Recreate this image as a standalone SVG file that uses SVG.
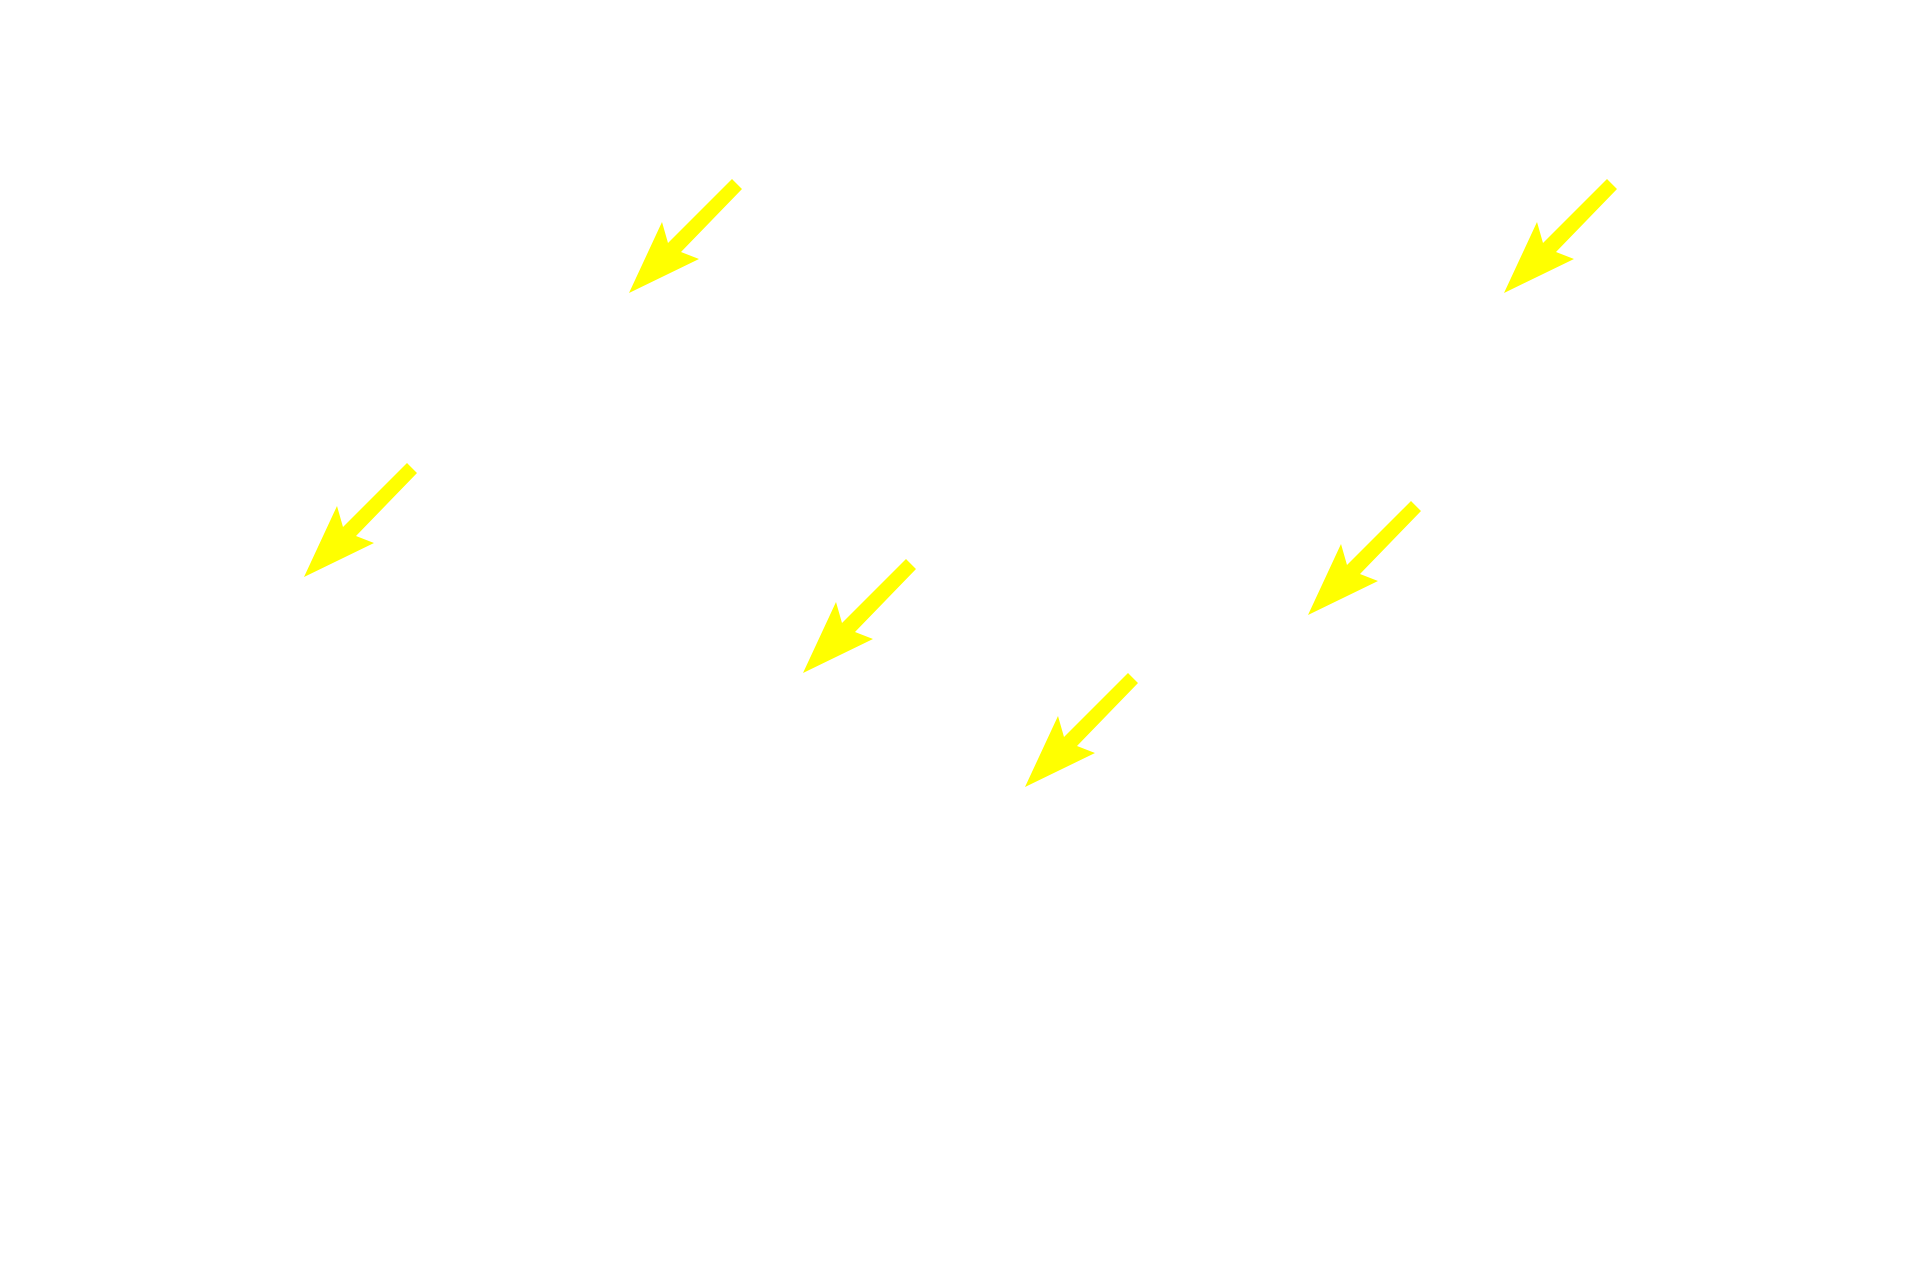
<svg xmlns="http://www.w3.org/2000/svg" width="1920" height="1280" viewBox="0 0 1920 1280">
<defs><polygon id="arr" points="0,0 33,-71 39,-50 103,-114 113,-104 52,-41 70,-34" fill="#ffff00"/></defs>
<rect width="1920" height="1280" fill="#fff"/>
<g id="arrows">
<use href="#arr" x="629" y="293"/>
<use href="#arr" x="1504" y="293"/>
<use href="#arr" x="304" y="577"/>
<use href="#arr" x="803" y="673"/>
<use href="#arr" x="1308" y="615"/>
<use href="#arr" x="1025" y="787"/>
</g>
</svg>
